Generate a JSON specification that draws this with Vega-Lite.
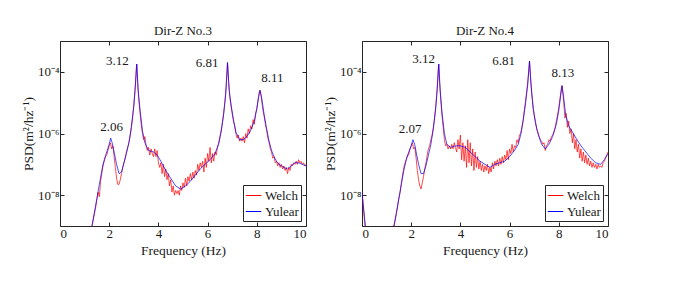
{
"$schema": "https://vega.github.io/schema/vega-lite/v6.json",
"background": "white",
"padding": {"left": 20, "top": 24, "right": 5, "bottom": 5},
"spacing": 15,
"config": {
  "font": "Liberation Serif, Times New Roman, serif",
  "view": {"stroke": "#262626", "strokeWidth": 1},
  "title": {"font": "Liberation Serif, Times New Roman, serif"},
  "text": {"font": "Liberation Serif, Times New Roman, serif"},
  "axis": {"labelFont": "Liberation Serif, Times New Roman, serif", "titleFont": "Liberation Serif, Times New Roman, serif", "domain": false, "grid": false, "tickColor": "#262626", "tickSize": -4, "labelColor": "#1a1a1a", "titleColor": "#1a1a1a", "labelFontSize": 13, "titleFontSize": 13.5, "titleFontWeight": "normal", "labelPadding": 5},
  "legend": {"labelFont": "Liberation Serif, Times New Roman, serif", "orient": "bottom-right", "offset": 5, "fillColor": "white", "strokeColor": "#262626", "padding": 2, "symbolType": "stroke", "symbolSize": 240, "symbolStrokeWidth": 1, "labelFontSize": 13, "labelColor": "#1a1a1a", "labelOffset": 3, "rowPadding": 0, "title": null}
},
"datasets": {
"w3": [{"f":1.25,"v":6.310e-10},{"f":1.35,"v":1.585e-9},{"f":1.45,"v":3.981e-9},{"f":1.55,"v":1.259e-8},{"f":1.6,"v":8.913e-9},{"f":1.65,"v":2.818e-8},{"f":1.7,"v":5.012e-8},{"f":1.75,"v":1e-7},{"f":1.8,"v":1.259e-7},{"f":1.85,"v":1.778e-7},{"f":1.9,"v":1.995e-7},{"f":1.95,"v":2.818e-7},{"f":2.0,"v":3.981e-7},{"f":2.05,"v":5.012e-7},{"f":2.1,"v":3.162e-7},{"f":2.15,"v":3.981e-7},{"f":2.2,"v":1.778e-7},{"f":2.25,"v":7.943e-8},{"f":2.3,"v":3.548e-8},{"f":2.35,"v":2.239e-8},{"f":2.4,"v":2.239e-8},{"f":2.45,"v":3.162e-8},{"f":2.5,"v":5.012e-8},{"f":2.55,"v":7.943e-8},{"f":2.6,"v":1.122e-7},{"f":2.65,"v":1.585e-7},{"f":2.7,"v":2.512e-7},{"f":2.75,"v":3.548e-7},{"f":2.8,"v":5.012e-7},{"f":2.85,"v":7.943e-7},{"f":2.9,"v":1.585e-6},{"f":2.95,"v":3.162e-6},{"f":3.0,"v":7.943e-6},{"f":3.05,"v":2.512e-5},{"f":3.1,"v":1.259e-4},{"f":3.12,"v":1.778e-4},{"f":3.15,"v":5.012e-5},{"f":3.2,"v":1.259e-5},{"f":3.25,"v":5.012e-6},{"f":3.3,"v":1.995e-6},{"f":3.35,"v":1e-6},{"f":3.4,"v":6.310e-7},{"f":3.45,"v":7.943e-7},{"f":3.5,"v":3.981e-7},{"f":3.55,"v":2.818e-7},{"f":3.6,"v":3.548e-7},{"f":3.65,"v":1.995e-7},{"f":3.7,"v":3.162e-7},{"f":3.75,"v":2.239e-7},{"f":3.8,"v":1.778e-7},{"f":3.85,"v":3.162e-7},{"f":3.9,"v":1.778e-7},{"f":3.95,"v":2.818e-7},{"f":4.0,"v":1.122e-7},{"f":4.05,"v":7.943e-8},{"f":4.1,"v":1.122e-7},{"f":4.15,"v":5.012e-8},{"f":4.2,"v":1e-7},{"f":4.25,"v":3.981e-8},{"f":4.3,"v":7.079e-8},{"f":4.35,"v":3.162e-8},{"f":4.4,"v":5.012e-8},{"f":4.45,"v":1.995e-8},{"f":4.5,"v":3.162e-8},{"f":4.55,"v":1.259e-8},{"f":4.6,"v":1.995e-8},{"f":4.65,"v":1e-8},{"f":4.7,"v":1.413e-8},{"f":4.75,"v":1.122e-8},{"f":4.8,"v":1.413e-8},{"f":4.85,"v":1e-8},{"f":4.9,"v":1.995e-8},{"f":4.95,"v":1.413e-8},{"f":5.0,"v":2.512e-8},{"f":5.05,"v":1.778e-8},{"f":5.1,"v":3.548e-8},{"f":5.15,"v":1.995e-8},{"f":5.2,"v":3.981e-8},{"f":5.25,"v":2.818e-8},{"f":5.3,"v":5.012e-8},{"f":5.35,"v":3.162e-8},{"f":5.4,"v":5.623e-8},{"f":5.45,"v":3.548e-8},{"f":5.5,"v":6.310e-8},{"f":5.55,"v":4.467e-8},{"f":5.6,"v":1e-7},{"f":5.65,"v":6.310e-8},{"f":5.7,"v":1.122e-7},{"f":5.75,"v":7.943e-8},{"f":5.8,"v":1.259e-7},{"f":5.85,"v":5.623e-8},{"f":5.9,"v":1.585e-7},{"f":5.95,"v":7.943e-8},{"f":6.0,"v":2.239e-7},{"f":6.05,"v":1.259e-7},{"f":6.1,"v":3.548e-7},{"f":6.15,"v":1.122e-7},{"f":6.2,"v":2.239e-7},{"f":6.25,"v":1.259e-7},{"f":6.3,"v":2.512e-7},{"f":6.35,"v":1.995e-7},{"f":6.4,"v":3.548e-7},{"f":6.45,"v":5.012e-7},{"f":6.5,"v":7.943e-7},{"f":6.55,"v":1.259e-6},{"f":6.6,"v":2.239e-6},{"f":6.65,"v":4.467e-6},{"f":6.7,"v":1e-5},{"f":6.75,"v":3.162e-5},{"f":6.81,"v":1.995e-4},{"f":6.85,"v":5.012e-5},{"f":6.9,"v":1.585e-5},{"f":6.95,"v":7.943e-6},{"f":7.0,"v":4.467e-6},{"f":7.05,"v":2.512e-6},{"f":7.1,"v":1.778e-6},{"f":7.15,"v":1e-6},{"f":7.2,"v":7.079e-7},{"f":7.25,"v":8.913e-7},{"f":7.3,"v":5.623e-7},{"f":7.35,"v":7.079e-7},{"f":7.4,"v":5.623e-7},{"f":7.45,"v":7.943e-7},{"f":7.5,"v":5.012e-7},{"f":7.55,"v":1e-6},{"f":7.6,"v":7.079e-7},{"f":7.65,"v":1.413e-6},{"f":7.7,"v":1e-6},{"f":7.75,"v":1.778e-6},{"f":7.8,"v":1.413e-6},{"f":7.85,"v":2.818e-6},{"f":7.9,"v":1.995e-6},{"f":7.95,"v":4.467e-6},{"f":8.0,"v":6.310e-6},{"f":8.05,"v":1.259e-5},{"f":8.1,"v":2.239e-5},{"f":8.13,"v":2.512e-5},{"f":8.17,"v":1.778e-5},{"f":8.2,"v":1.122e-5},{"f":8.25,"v":5.623e-6},{"f":8.3,"v":3.548e-6},{"f":8.35,"v":1.995e-6},{"f":8.4,"v":1.259e-6},{"f":8.45,"v":7.079e-7},{"f":8.5,"v":5.012e-7},{"f":8.55,"v":3.162e-7},{"f":8.6,"v":2.512e-7},{"f":8.65,"v":1.585e-7},{"f":8.7,"v":1.778e-7},{"f":8.75,"v":1.122e-7},{"f":8.8,"v":1.259e-7},{"f":8.85,"v":8.913e-8},{"f":8.9,"v":1.122e-7},{"f":8.95,"v":7.943e-8},{"f":9.0,"v":1e-7},{"f":9.05,"v":7.079e-8},{"f":9.1,"v":8.913e-8},{"f":9.15,"v":6.310e-8},{"f":9.2,"v":7.943e-8},{"f":9.25,"v":5.012e-8},{"f":9.3,"v":7.943e-8},{"f":9.35,"v":6.310e-8},{"f":9.4,"v":1e-7},{"f":9.45,"v":8.913e-8},{"f":9.5,"v":1.122e-7},{"f":9.55,"v":1e-7},{"f":9.6,"v":1.259e-7},{"f":9.65,"v":1e-7},{"f":9.7,"v":1.413e-7},{"f":9.75,"v":1.122e-7},{"f":9.8,"v":1.259e-7},{"f":9.85,"v":1e-7},{"f":9.9,"v":1.122e-7},{"f":9.95,"v":8.913e-8},{"f":10.0,"v":1e-7}],
"y3": [{"f":1.2,"v":5.012e-10},{"f":1.3,"v":1e-9},{"f":1.4,"v":2.818e-9},{"f":1.5,"v":7.943e-9},{"f":1.6,"v":2.239e-8},{"f":1.7,"v":6.310e-8},{"f":1.8,"v":1.413e-7},{"f":1.9,"v":2.512e-7},{"f":2.0,"v":4.467e-7},{"f":2.06,"v":7.079e-7},{"f":2.12,"v":5.012e-7},{"f":2.2,"v":2.512e-7},{"f":2.3,"v":1e-7},{"f":2.4,"v":5.012e-8},{"f":2.5,"v":5.623e-8},{"f":2.6,"v":1.122e-7},{"f":2.7,"v":2.239e-7},{"f":2.8,"v":5.012e-7},{"f":2.9,"v":1.585e-6},{"f":3.0,"v":7.943e-6},{"f":3.06,"v":3.162e-5},{"f":3.12,"v":1.778e-4},{"f":3.18,"v":2.512e-5},{"f":3.25,"v":6.310e-6},{"f":3.35,"v":1.259e-6},{"f":3.45,"v":5.012e-7},{"f":3.6,"v":2.818e-7},{"f":3.8,"v":2.512e-7},{"f":3.95,"v":1.995e-7},{"f":4.1,"v":1.259e-7},{"f":4.3,"v":6.310e-8},{"f":4.5,"v":3.548e-8},{"f":4.7,"v":1.995e-8},{"f":4.9,"v":1.585e-8},{"f":5.1,"v":1.995e-8},{"f":5.3,"v":2.818e-8},{"f":5.5,"v":4.467e-8},{"f":5.7,"v":7.079e-8},{"f":5.9,"v":1e-7},{"f":6.1,"v":1.413e-7},{"f":6.3,"v":2.239e-7},{"f":6.45,"v":4.467e-7},{"f":6.55,"v":1.122e-6},{"f":6.65,"v":3.981e-6},{"f":6.74,"v":1.995e-5},{"f":6.81,"v":1.995e-4},{"f":6.88,"v":2.512e-5},{"f":6.96,"v":7.943e-6},{"f":7.05,"v":2.818e-6},{"f":7.15,"v":1.122e-6},{"f":7.3,"v":6.310e-7},{"f":7.45,"v":6.310e-7},{"f":7.6,"v":7.943e-7},{"f":7.75,"v":1.259e-6},{"f":7.9,"v":2.512e-6},{"f":8.0,"v":6.310e-6},{"f":8.08,"v":1.585e-5},{"f":8.13,"v":2.512e-5},{"f":8.2,"v":1.413e-5},{"f":8.3,"v":3.981e-6},{"f":8.4,"v":1.413e-6},{"f":8.5,"v":5.623e-7},{"f":8.6,"v":2.818e-7},{"f":8.7,"v":1.778e-7},{"f":8.8,"v":1.259e-7},{"f":8.9,"v":1e-7},{"f":9.0,"v":8.913e-8},{"f":9.1,"v":7.943e-8},{"f":9.25,"v":7.079e-8},{"f":9.4,"v":8.913e-8},{"f":9.55,"v":1.122e-7},{"f":9.7,"v":1.122e-7},{"f":9.85,"v":1e-7},{"f":10.0,"v":8.913e-8}],
"w4": [{"f":0,"v":1.259e-8},{"f":0.05,"v":4.467e-9},{"f":0.1,"v":1.585e-9},{"f":0.15,"v":6.310e-10},{"f":1.3,"v":1e-9},{"f":1.4,"v":2.512e-9},{"f":1.5,"v":7.943e-9},{"f":1.55,"v":1.259e-8},{"f":1.6,"v":2.512e-8},{"f":1.65,"v":4.467e-8},{"f":1.7,"v":7.943e-8},{"f":1.75,"v":1.122e-7},{"f":1.8,"v":1.413e-7},{"f":1.85,"v":1.995e-7},{"f":1.9,"v":1.995e-7},{"f":1.95,"v":3.162e-7},{"f":2.0,"v":3.981e-7},{"f":2.05,"v":5.012e-7},{"f":2.1,"v":3.162e-7},{"f":2.15,"v":3.548e-7},{"f":2.2,"v":1.585e-7},{"f":2.25,"v":6.310e-8},{"f":2.3,"v":3.162e-8},{"f":2.35,"v":1.995e-8},{"f":2.4,"v":1.585e-8},{"f":2.45,"v":2.512e-8},{"f":2.5,"v":3.981e-8},{"f":2.55,"v":7.079e-8},{"f":2.6,"v":1.122e-7},{"f":2.65,"v":1.995e-7},{"f":2.7,"v":3.162e-7},{"f":2.75,"v":3.981e-7},{"f":2.8,"v":6.310e-7},{"f":2.85,"v":8.913e-7},{"f":2.9,"v":1.585e-6},{"f":2.95,"v":3.162e-6},{"f":3.0,"v":7.943e-6},{"f":3.05,"v":2.512e-5},{"f":3.1,"v":1.259e-4},{"f":3.12,"v":1.778e-4},{"f":3.15,"v":5.012e-5},{"f":3.2,"v":1.259e-5},{"f":3.25,"v":3.981e-6},{"f":3.3,"v":1.585e-6},{"f":3.35,"v":6.310e-7},{"f":3.4,"v":3.981e-7},{"f":3.45,"v":4.467e-7},{"f":3.5,"v":3.162e-7},{"f":3.55,"v":3.981e-7},{"f":3.6,"v":3.162e-7},{"f":3.65,"v":4.467e-7},{"f":3.7,"v":3.162e-7},{"f":3.75,"v":5.012e-7},{"f":3.8,"v":3.548e-7},{"f":3.85,"v":2.512e-7},{"f":3.9,"v":6.310e-7},{"f":3.95,"v":3.162e-7},{"f":4.0,"v":8.913e-7},{"f":4.05,"v":1.413e-7},{"f":4.1,"v":5.012e-7},{"f":4.15,"v":1.259e-7},{"f":4.2,"v":3.981e-7},{"f":4.25,"v":7.943e-8},{"f":4.3,"v":6.310e-7},{"f":4.35,"v":1.122e-7},{"f":4.4,"v":5.012e-7},{"f":4.45,"v":8.913e-8},{"f":4.5,"v":3.162e-7},{"f":4.55,"v":6.310e-8},{"f":4.6,"v":2.512e-7},{"f":4.65,"v":7.943e-8},{"f":4.7,"v":1.778e-7},{"f":4.75,"v":7.079e-8},{"f":4.8,"v":1.259e-7},{"f":4.85,"v":6.310e-8},{"f":4.9,"v":1e-7},{"f":4.95,"v":5.623e-8},{"f":5.0,"v":8.913e-8},{"f":5.05,"v":6.310e-8},{"f":5.1,"v":1e-7},{"f":5.15,"v":5.012e-8},{"f":5.2,"v":7.943e-8},{"f":5.25,"v":5.623e-8},{"f":5.3,"v":1.122e-7},{"f":5.35,"v":7.079e-8},{"f":5.4,"v":1.259e-7},{"f":5.45,"v":8.913e-8},{"f":5.5,"v":1.413e-7},{"f":5.55,"v":8.913e-8},{"f":5.6,"v":1.585e-7},{"f":5.65,"v":1e-7},{"f":5.7,"v":1.778e-7},{"f":5.75,"v":1.122e-7},{"f":5.8,"v":1.995e-7},{"f":5.85,"v":1.413e-7},{"f":5.9,"v":2.818e-7},{"f":5.95,"v":1.413e-7},{"f":6.0,"v":3.162e-7},{"f":6.05,"v":2.239e-7},{"f":6.1,"v":4.467e-7},{"f":6.15,"v":2.512e-7},{"f":6.2,"v":3.981e-7},{"f":6.25,"v":3.548e-7},{"f":6.3,"v":6.310e-7},{"f":6.35,"v":5.012e-7},{"f":6.4,"v":8.913e-7},{"f":6.45,"v":1e-6},{"f":6.5,"v":1.585e-6},{"f":6.55,"v":2.818e-6},{"f":6.6,"v":5.623e-6},{"f":6.65,"v":1.122e-5},{"f":6.7,"v":2.512e-5},{"f":6.75,"v":6.310e-5},{"f":6.81,"v":2.239e-4},{"f":6.85,"v":6.310e-5},{"f":6.9,"v":1.995e-5},{"f":6.95,"v":7.943e-6},{"f":7.0,"v":3.981e-6},{"f":7.05,"v":2.512e-6},{"f":7.1,"v":1.413e-6},{"f":7.15,"v":1.122e-6},{"f":7.2,"v":7.943e-7},{"f":7.25,"v":6.310e-7},{"f":7.3,"v":5.623e-7},{"f":7.35,"v":4.467e-7},{"f":7.4,"v":5.012e-7},{"f":7.45,"v":2.818e-7},{"f":7.5,"v":3.981e-7},{"f":7.55,"v":4.467e-7},{"f":7.6,"v":6.310e-7},{"f":7.65,"v":5.623e-7},{"f":7.7,"v":7.943e-7},{"f":7.75,"v":8.913e-7},{"f":7.8,"v":1.122e-6},{"f":7.85,"v":1.585e-6},{"f":7.9,"v":2.512e-6},{"f":7.95,"v":3.981e-6},{"f":8.0,"v":7.079e-6},{"f":8.05,"v":1.413e-5},{"f":8.1,"v":2.818e-5},{"f":8.13,"v":3.548e-5},{"f":8.17,"v":1.995e-5},{"f":8.2,"v":1e-5},{"f":8.25,"v":3.162e-6},{"f":8.3,"v":4.467e-6},{"f":8.35,"v":1.585e-6},{"f":8.4,"v":2.512e-6},{"f":8.45,"v":1e-6},{"f":8.5,"v":1.413e-6},{"f":8.55,"v":5.012e-7},{"f":8.6,"v":1e-6},{"f":8.65,"v":3.162e-7},{"f":8.7,"v":6.310e-7},{"f":8.75,"v":2.512e-7},{"f":8.8,"v":4.467e-7},{"f":8.85,"v":1.585e-7},{"f":8.9,"v":3.162e-7},{"f":8.95,"v":1.259e-7},{"f":9.0,"v":2.512e-7},{"f":9.05,"v":1.122e-7},{"f":9.1,"v":1.995e-7},{"f":9.15,"v":1e-7},{"f":9.2,"v":1.585e-7},{"f":9.25,"v":8.913e-8},{"f":9.3,"v":1.259e-7},{"f":9.35,"v":7.943e-8},{"f":9.4,"v":1.122e-7},{"f":9.45,"v":7.943e-8},{"f":9.5,"v":1e-7},{"f":9.55,"v":7.079e-8},{"f":9.6,"v":1e-7},{"f":9.65,"v":7.943e-8},{"f":9.7,"v":8.913e-8},{"f":9.75,"v":7.943e-8},{"f":9.8,"v":1.122e-7},{"f":9.85,"v":1.259e-7},{"f":9.9,"v":1.585e-7},{"f":9.95,"v":1.995e-7},{"f":10.0,"v":2.512e-7}],
"y4": [{"f":0,"v":1.259e-8},{"f":0.05,"v":5.012e-9},{"f":0.1,"v":1.995e-9},{"f":0.15,"v":7.943e-10},{"f":0.2,"v":3.162e-10},{"f":1.2,"v":5.012e-10},{"f":1.3,"v":1e-9},{"f":1.4,"v":2.818e-9},{"f":1.5,"v":7.943e-9},{"f":1.6,"v":2.239e-8},{"f":1.7,"v":6.310e-8},{"f":1.8,"v":1.413e-7},{"f":1.9,"v":2.512e-7},{"f":2.0,"v":3.981e-7},{"f":2.07,"v":6.310e-7},{"f":2.14,"v":4.467e-7},{"f":2.2,"v":2.512e-7},{"f":2.3,"v":1e-7},{"f":2.4,"v":5.012e-8},{"f":2.5,"v":5.012e-8},{"f":2.6,"v":8.913e-8},{"f":2.7,"v":1.995e-7},{"f":2.8,"v":4.467e-7},{"f":2.9,"v":1.413e-6},{"f":3.0,"v":7.079e-6},{"f":3.06,"v":2.818e-5},{"f":3.12,"v":1.778e-4},{"f":3.18,"v":2.512e-5},{"f":3.25,"v":5.012e-6},{"f":3.35,"v":1e-6},{"f":3.45,"v":4.467e-7},{"f":3.6,"v":3.548e-7},{"f":3.8,"v":3.981e-7},{"f":4.0,"v":3.981e-7},{"f":4.2,"v":3.548e-7},{"f":4.4,"v":2.512e-7},{"f":4.6,"v":1.778e-7},{"f":4.8,"v":1.259e-7},{"f":5.0,"v":1e-7},{"f":5.2,"v":7.943e-8},{"f":5.4,"v":1e-7},{"f":5.6,"v":1.122e-7},{"f":5.8,"v":1.259e-7},{"f":6.0,"v":1.778e-7},{"f":6.2,"v":2.818e-7},{"f":6.35,"v":4.467e-7},{"f":6.45,"v":8.913e-7},{"f":6.55,"v":2.512e-6},{"f":6.65,"v":1e-5},{"f":6.74,"v":3.981e-5},{"f":6.81,"v":2.239e-4},{"f":6.88,"v":3.162e-5},{"f":6.96,"v":6.310e-6},{"f":7.05,"v":2.239e-6},{"f":7.15,"v":1e-6},{"f":7.3,"v":4.467e-7},{"f":7.45,"v":3.162e-7},{"f":7.6,"v":4.467e-7},{"f":7.75,"v":7.943e-7},{"f":7.9,"v":1.995e-6},{"f":8.0,"v":5.623e-6},{"f":8.08,"v":1.778e-5},{"f":8.13,"v":3.548e-5},{"f":8.2,"v":1.413e-5},{"f":8.28,"v":3.981e-6},{"f":8.4,"v":1.778e-6},{"f":8.55,"v":1.122e-6},{"f":8.7,"v":7.079e-7},{"f":8.9,"v":3.981e-7},{"f":9.1,"v":2.512e-7},{"f":9.3,"v":1.585e-7},{"f":9.5,"v":1.122e-7},{"f":9.7,"v":1e-7},{"f":9.85,"v":1.413e-7},{"f":10.0,"v":2.239e-7}],
"a3": [{"f":2.1,"v":1.585e-6,"t":"2.06"},{"f":2.33,"v":2.239e-4,"t":"3.12"},{"f":5.98,"v":1.995e-4,"t":"6.81"},{"f":8.63,"v":6.310e-5,"t":"8.11"}],
"a4": [{"f":1.96,"v":1.413e-6,"t":"2.07"},{"f":2.5,"v":2.512e-4,"t":"3.12"},{"f":5.76,"v":2.239e-4,"t":"6.81"},{"f":8.17,"v":8.913e-5,"t":"8.13"}]
},
"resolve": {"legend": {"color": "independent"}, "scale": {"color": "independent"}},
"hconcat": [
{
  "width": 246, "height": 185,
  "title": {"text": "Dir-Z No.3", "fontSize": 13, "fontWeight": "normal", "offset": 3, "color": "#1a1a1a"},
  "resolve": {"axis": {"x": "independent", "y": "independent"}},
  "layer": [
    {"data": {"name": "w3"}, "mark": {"type": "line", "strokeWidth": 0.7, "clip": true},
     "encoding": {
       "x": {"field": "f", "type": "quantitative", "scale": {"domain": [0, 10], "nice": false}, "axis": {"orient": "bottom", "values": [0,2,4,6,8,10], "title": "Frequency (Hz)", "titlePadding": 3}},
       "y": {"field": "v", "type": "quantitative", "scale": {"type": "log", "domain": [1e-9, 1e-3], "nice": false}, "axis": {"orient": "left", "values": [1e-8, 1e-6, 1e-4], "labelExpr": "datum.value > 1e-5 ? '10⁻⁴' : datum.value > 1e-7 ? '10⁻⁶' : '10⁻⁸'", "title": "PSD(m²/hz⁻¹)", "titlePadding": 2}},
       "color": {"datum": "Welch", "type": "nominal", "scale": {"domain": ["Welch", "Yulear"], "range": ["#ff0000", "#0000ff"]}}
     }},
    {"data": {"name": "y3"}, "mark": {"type": "line", "strokeWidth": 0.7, "clip": true},
     "encoding": {
       "x": {"field": "f", "type": "quantitative", "axis": {"orient": "top", "values": [0,2,4,6,8,10], "labels": false, "title": null}},
       "y": {"field": "v", "type": "quantitative", "axis": {"orient": "right", "values": [1e-8, 1e-6, 1e-4], "labels": false, "title": null}},
       "color": {"datum": "Yulear", "type": "nominal"}
     }},
    {"data": {"name": "a3"}, "mark": {"type": "text", "fontSize": 13, "color": "#1a1a1a", "baseline": "middle", "align": "center"},
     "encoding": {
       "x": {"field": "f", "type": "quantitative", "axis": null},
       "y": {"field": "v", "type": "quantitative", "axis": null},
       "text": {"field": "t"}
     }}
  ]
},
{
  "width": 246, "height": 185,
  "title": {"text": "Dir-Z No.4", "fontSize": 13, "fontWeight": "normal", "offset": 3, "color": "#1a1a1a"},
  "resolve": {"axis": {"x": "independent", "y": "independent"}},
  "layer": [
    {"data": {"name": "w4"}, "mark": {"type": "line", "strokeWidth": 0.7, "clip": true},
     "encoding": {
       "x": {"field": "f", "type": "quantitative", "scale": {"domain": [0, 10], "nice": false}, "axis": {"orient": "bottom", "values": [0,2,4,6,8,10], "title": "Frequency (Hz)", "titlePadding": 3}},
       "y": {"field": "v", "type": "quantitative", "scale": {"type": "log", "domain": [1e-9, 1e-3], "nice": false}, "axis": {"orient": "left", "values": [1e-8, 1e-6, 1e-4], "labelExpr": "datum.value > 1e-5 ? '10⁻⁴' : datum.value > 1e-7 ? '10⁻⁶' : '10⁻⁸'", "title": "PSD(m²/hz⁻¹)", "titlePadding": 2}},
       "color": {"datum": "Welch", "type": "nominal", "scale": {"domain": ["Welch", "Yulear"], "range": ["#ff0000", "#0000ff"]}}
     }},
    {"data": {"name": "y4"}, "mark": {"type": "line", "strokeWidth": 0.7, "clip": true},
     "encoding": {
       "x": {"field": "f", "type": "quantitative", "axis": {"orient": "top", "values": [0,2,4,6,8,10], "labels": false, "title": null}},
       "y": {"field": "v", "type": "quantitative", "axis": {"orient": "right", "values": [1e-8, 1e-6, 1e-4], "labels": false, "title": null}},
       "color": {"datum": "Yulear", "type": "nominal"}
     }},
    {"data": {"name": "a4"}, "mark": {"type": "text", "fontSize": 13, "color": "#1a1a1a", "baseline": "middle", "align": "center"},
     "encoding": {
       "x": {"field": "f", "type": "quantitative", "axis": null},
       "y": {"field": "v", "type": "quantitative", "axis": null},
       "text": {"field": "t"}
     }}
  ]
}
]
}
